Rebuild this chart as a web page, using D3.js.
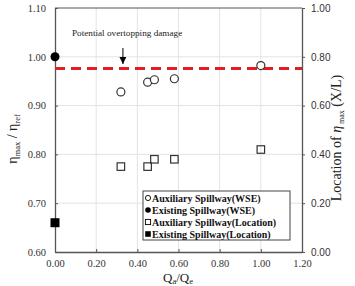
<!DOCTYPE html>
<html><head><meta charset="utf-8">
<script src="https://cdn.jsdelivr.net/npm/d3@7"></script>
<style>body{margin:0;background:#fff}svg{display:block}</style>
</head><body>
<script>
// Data
const auxX = [0.32, 0.45, 0.483, 0.58, 1.0];
const auxWSE = [0.928, 0.948, 0.953, 0.955, 0.982];
const auxLoc = [0.35, 0.35, 0.38, 0.38, 0.42];
const exX = [0.0];
const exWSE = [1.0];
const exLoc = [0.12];
const damageLevel = 0.976;
const arrowX = 0.33;
const xTicks = [0, 0.2, 0.4, 0.6, 0.8, 1.0, 1.2];
const yLTicks = [0.6, 0.7, 0.8, 0.9, 1.0, 1.1];
const yRTicks = [0, 0.2, 0.4, 0.6, 0.8, 1.0];
const legendLabels = ["Auxiliary Spillway(WSE)", "Existing Spillway(WSE)", "Auxiliary Spillway(Location)", "Existing Spillway(Location)"];

const W = 355, H = 286;
const m = {l: 55, r: 302, t: 8, b: 252};
const svg = d3.select("body").append("svg").attr("width", W).attr("height", H);
const x = d3.scaleLinear().domain([0, 1.2]).range([m.l, m.r]);
const yL = d3.scaleLinear().domain([0.6, 1.1]).range([m.b, m.t]);
const yR = d3.scaleLinear().domain([0, 1.0]).range([m.b, m.t]);
const serif = "'Liberation Serif','DejaVu Serif',serif";
const sans = "'Liberation Sans',Arial,sans-serif";

// grid
const g = svg.append("g");
g.selectAll(".vg").data(xTicks.slice(1, -1)).join("line")
  .attr("x1", d => x(d)).attr("x2", d => x(d)).attr("y1", m.t).attr("y2", m.b)
  .attr("stroke", "#e3e3e3").attr("stroke-width", 1);
g.selectAll(".hg").data(yLTicks.slice(1, -1)).join("line")
  .attr("x1", m.l).attr("x2", m.r).attr("y1", d => yL(d)).attr("y2", d => yL(d))
  .attr("stroke", "#e3e3e3").attr("stroke-width", 1);
// top border
svg.append("line").attr("x1", m.l).attr("x2", m.r).attr("y1", m.t).attr("y2", m.t).attr("stroke", "#555").attr("stroke-width", 1);

// axes
const axB = svg.append("g").attr("transform", `translate(0,${m.b})`)
  .call(d3.axisBottom(x).tickValues(xTicks).tickFormat(d3.format(".2f")).tickSizeInner(-3).tickSizeOuter(0).tickPadding(8));
const axL = svg.append("g").attr("transform", `translate(${m.l},0)`)
  .call(d3.axisLeft(yL).tickValues(yLTicks).tickFormat(d3.format(".2f")).tickSizeInner(-3).tickSizeOuter(0).tickPadding(9));
const axR = svg.append("g").attr("transform", `translate(${m.r},0)`)
  .call(d3.axisRight(yR).tickValues(yRTicks).tickFormat(d3.format(".2f")).tickSizeInner(3).tickSizeOuter(0).tickPadding(6));
[axB, axL, axR].forEach(a => {
  a.select(".domain").attr("stroke", "#555").attr("stroke-width", 1.3);
  a.selectAll(".tick line").attr("stroke", "#555");
});
axB.selectAll("text").attr("font-family", serif).attr("font-size", 10.5).attr("fill", "#333");
axL.selectAll("text").attr("font-family", serif).attr("font-size", 10.5).attr("fill", "#333");
axR.selectAll("text").attr("font-family", sans).attr("font-size", 10).attr("fill", "#333");

// damage line
svg.append("line").attr("x1", x(0)).attr("x2", x(1.2)).attr("y1", yL(damageLevel)).attr("y2", yL(damageLevel))
  .attr("stroke", "#e02020").attr("stroke-width", 2.8).attr("stroke-dasharray", "10,6");
svg.append("text").attr("x", 72).attr("y", 36).attr("font-family", serif).attr("font-size", 9.2).attr("fill", "#222")
  .text("Potential overtopping damage");
svg.append("defs").append("marker").attr("id", "ah").attr("viewBox", "0 0 10 10").attr("refX", 10).attr("refY", 5)
  .attr("markerWidth", 7).attr("markerHeight", 7).attr("orient", "auto").attr("markerUnits", "userSpaceOnUse")
  .append("path").attr("d", "M0,0L10,5L0,10Z").attr("fill", "#000");
svg.append("line").attr("x1", x(arrowX)).attr("x2", x(arrowX)).attr("y1", 48).attr("y2", 64)
  .attr("stroke", "#000").attr("stroke-width", 1).attr("marker-end", "url(#ah)");

// points
const auxData = auxX.map((d, i) => ({x: d, w: auxWSE[i], l: auxLoc[i]}));
const exData = exX.map((d, i) => ({x: d, w: exWSE[i], l: exLoc[i]}));
const s = 7.5;
svg.selectAll(".sq").data(auxData).join("rect")
  .attr("x", d => x(d.x) - s / 2).attr("y", d => yR(d.l) - s / 2).attr("width", s).attr("height", s)
  .attr("fill", "none").attr("stroke", "#333").attr("stroke-width", 1.2);
svg.selectAll(".exsq").data(exData).join("rect")
  .attr("x", d => x(d.x) - 4.5).attr("y", d => yR(d.l) - 4.5).attr("width", 9).attr("height", 9).attr("fill", "#000");
svg.selectAll(".ci").data(auxData).join("circle")
  .attr("cx", d => x(d.x)).attr("cy", d => yL(d.w)).attr("r", 4).attr("fill", "#fff")
  .attr("stroke", "#333").attr("stroke-width", 1.2);
svg.selectAll(".exci").data(exData).join("circle")
  .attr("cx", d => x(d.x)).attr("cy", d => yL(d.w)).attr("r", 4.5).attr("fill", "#000");

// legend
const lg = svg.append("g");
lg.append("rect").attr("x", 143).attr("y", 191).attr("width", 147).attr("height", 49)
  .attr("fill", "#fff").attr("stroke", "#444").attr("stroke-width", 1);
const symbols = ["oc", "fc", "os", "fs"];
legendLabels.forEach((t, i) => {
  const yy = 198 + i * 12;
  const sx = 148;
  if (symbols[i] === "oc") lg.append("circle").attr("cx", sx).attr("cy", yy).attr("r", 2.6).attr("fill", "#fff").attr("stroke", "#000").attr("stroke-width", 0.9);
  if (symbols[i] === "fc") lg.append("circle").attr("cx", sx).attr("cy", yy).attr("r", 2.8).attr("fill", "#000");
  if (symbols[i] === "os") lg.append("rect").attr("x", sx - 2.6).attr("y", yy - 2.6).attr("width", 5.2).attr("height", 5.2).attr("fill", "#fff").attr("stroke", "#000").attr("stroke-width", 0.9);
  if (symbols[i] === "fs") lg.append("rect").attr("x", sx - 2.8).attr("y", yy - 2.8).attr("width", 5.6).attr("height", 5.6).attr("fill", "#000");
  lg.append("text").attr("x", 152).attr("y", yy + 3.5).attr("font-family", serif).attr("font-weight", "bold")
    .attr("font-size", 10).attr("fill", "#111").text(t);
});

// axis titles
const xt = svg.append("text").attr("x", 178).attr("y", 282).attr("text-anchor", "middle").attr("font-family", serif).attr("font-size", 13).attr("fill", "#222");
xt.append("tspan").text("Q");
xt.append("tspan").attr("font-size", 8.5).attr("dy", 2).text("a");
xt.append("tspan").attr("dy", -2).text("/Q");
xt.append("tspan").attr("font-size", 8.5).attr("dy", 2).text("e");

const lt = svg.append("text").attr("transform", "translate(17,139) rotate(-90)").attr("text-anchor", "middle")
  .attr("font-family", serif).attr("font-size", 14).attr("fill", "#222");
lt.append("tspan").text("η");
lt.append("tspan").attr("font-size", 8.5).attr("dy", 3).text("max");
lt.append("tspan").attr("dy", -3).text(" / η");
lt.append("tspan").attr("font-size", 8.5).attr("dy", 3).text("ref");

const rt = svg.append("text").attr("transform", "translate(341,138) rotate(-90)").attr("text-anchor", "middle")
  .attr("font-family", serif).attr("font-size", 14).attr("fill", "#222");
rt.append("tspan").text("Location of ");
rt.append("tspan").attr("font-style", "italic").text("η");
rt.append("tspan").attr("font-size", 8).attr("dy", 3).text(" max");
rt.append("tspan").attr("dy", -3).text(" (X/L)");
</script>
</body></html>
